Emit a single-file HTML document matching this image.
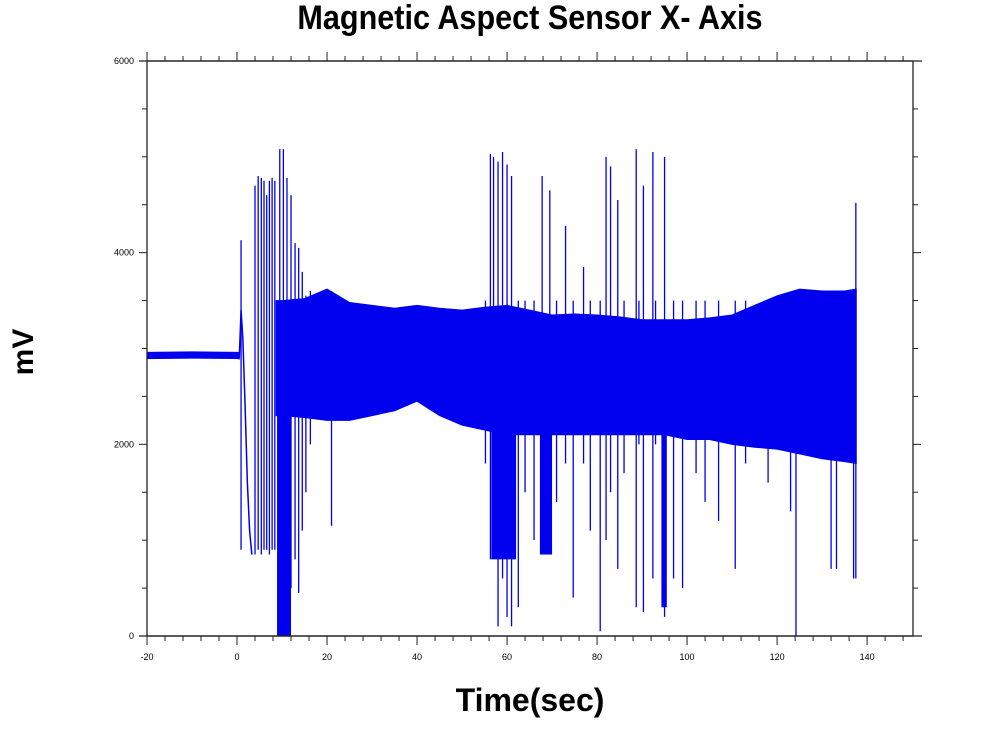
<!DOCTYPE html>
<html><head><meta charset="utf-8"><style>
html,body{margin:0;padding:0;background:#fff;}
svg{display:block;font-family:"Liberation Sans",Arial,sans-serif;}
</style></head><body>
<svg id="chart" width="1007" height="738" viewBox="0 0 1007 738">
<text x="0" y="0" text-anchor="middle" font-size="34" font-weight="bold" transform="translate(530,29) scale(0.9,1)">Magnetic Aspect Sensor X- Axis</text>
<text x="0" y="0" text-anchor="middle" font-size="30" font-weight="bold" transform="translate(33,352) rotate(-90)">mV</text>
<text x="530" y="711" text-anchor="middle" font-size="32" font-weight="bold">Time(sec)</text>
<g id="plot"></g>
<g id="axes"></g>
</svg>
<script>
// data
const xTicks = [-20,0,20,40,60,80,100,120,140];
const yTicks = [0,2000,4000,6000];
const flatT = [-20,-10,0,0.5];
const flatLo = [2895,2900,2895,2890];
const flatHi = [2960,2965,2960,2960];
const transT = [0.5,0.9,1.3,1.8,2.3,2.8,3.3];
const transV = [2900,3400,3100,2400,1600,1100,850];
const bandT = [8.7,10,15,20,25,30,35,40,45,50,55,60,65,70,75,80,85,90,95,100,105,110,115,120,125,130,135,137.6];
const bandHi = [3500,3500,3520,3620,3480,3450,3420,3450,3420,3400,3430,3450,3400,3350,3360,3350,3330,3300,3300,3300,3320,3350,3450,3550,3620,3600,3600,3620];
const bandLo = [2300,2300,2280,2250,2250,2300,2350,2450,2300,2200,2150,2100,2100,2100,2100,2100,2100,2100,2100,2050,2050,2000,1970,1950,1900,1850,1820,1800];
const blockT0 = [8.9,56.5,67.3,94.3];
const blockT1 = [12.0,62.0,70.0,95.5];
const blockLo = [0,800,850,300];
const spikeT = [0.9,4.0,4.7,5.4,6.0,6.6,7.2,7.8,8.4,9.5,10.3,11.1,12.0,12.9,13.7,14.5,15.3,16.3,21,
 55.2,56.3,57,58,59,60,61,62.5,64,66,67.8,69.5,71,73,74.7,77,78.5,80.7,82,83,84.6,86,88.7,89.3,90.3,92.4,93,95,97,99,102,104,107,110.7,113,118,123,124.2,132,133.2,137,137.5];
const spikeLo = [900,850,900,850,900,900,850,900,900,0,0,0,500,800,450,1100,1500,2000,1150,
 1800,800,1000,100,600,200,100,300,1500,1000,850,1000,1400,1800,400,1800,1100,50,1000,1500,700,1700,300,2000,250,600,2000,200,600,500,1700,1400,1200,700,1800,1600,1300,0,700,700,600,600];
const spikeHi = [4130,4700,4800,4780,4750,4600,4750,4780,4750,5080,5080,4780,4600,4100,4050,3800,3550,3600,3600,
 3500,5030,5000,4950,5050,4920,4800,3500,3500,3500,4800,4650,3500,4280,3500,3850,3500,3500,5000,4900,4550,3500,5080,3500,4700,5050,3500,5000,3500,3500,3500,3500,3500,3500,3500,3500,3500,3500,3500,3500,3600,4520];

const L=147,R=913,T=61,B=636,xMin=-20,xMax=150.2,yMin=0,yMax=6000;
const sx=v=>L+(v-xMin)/(xMax-xMin)*(R-L);
const sy=v=>B-(v-yMin)/(yMax-yMin)*(B-T);
const NS="http://www.w3.org/2000/svg";
const plot=document.getElementById('plot'), axes=document.getElementById('axes');
function mk(tag,attrs,parent){const e=document.createElementNS(NS,tag);for(const k in attrs)e.setAttribute(k,attrs[k]);parent.appendChild(e);return e;}
const BLUE="#0000ee";

let pts=flatT.map((t,i)=>sx(t)+','+sy(flatHi[i])).concat(flatT.slice().reverse().map((t,i)=>sx(t)+','+sy(flatLo[flatT.length-1-i])));
let e=mk('polygon',{points:pts.join(' '),fill:BLUE,stroke:BLUE,'stroke-width':1},plot);


e=mk('polyline',{points:transT.map((t,i)=>sx(t)+','+sy(transV[i])).join(' '),fill:'none',stroke:BLUE,'stroke-width':1.5},plot);


pts=bandT.map((t,i)=>sx(t)+','+sy(bandHi[i])).concat(bandT.map((t,i)=>i).reverse().map(i=>sx(bandT[i])+','+sy(bandLo[i])));
e=mk('polygon',{points:pts.join(' '),fill:BLUE,stroke:BLUE,'stroke-width':1},plot);


blockT0.forEach((t,i)=>{
 const r=mk('rect',{x:sx(t),y:sy(2800),width:sx(blockT1[i])-sx(t),height:sy(blockLo[i])-sy(2800),fill:BLUE},plot);
 
 
});
spikeT.forEach((t,i)=>{
 const l=mk('line',{x1:sx(t),x2:sx(t),y1:sy(spikeLo[i]),y2:sy(spikeHi[i]),stroke:BLUE,'stroke-width':1.3},plot);
 
 
});

e=mk('rect',{x:L,y:T,width:R-L,height:B-T,fill:'none',stroke:'#222','stroke-width':1.3},axes);


mk('line',{x1:L-8,x2:R+9,y1:T,y2:T,stroke:'#222','stroke-width':1.3},axes);
mk('line',{x1:L-8,x2:R+9,y1:B,y2:B,stroke:'#222','stroke-width':1.3},axes);
for(let v=-20;v<=150;v+=4){
 const major=(v%20===0);
 mk('line',{x1:sx(v),x2:sx(v),y1:B,y2:B+(major?9:5),stroke:'#222','stroke-width':1},axes);
 mk('line',{x1:sx(v),x2:sx(v),y1:T,y2:T-(major?9:5),stroke:'#222','stroke-width':1},axes);
}
xTicks.forEach(v=>{
 const t=mk('text',{x:sx(v),y:B+24,'text-anchor':'middle','font-size':9},axes);
 t.textContent=v;
 
 
});
for(let v=0;v<=6000;v+=500){
 const major=(v%2000===0);
 mk('line',{x1:L,x2:L-(major?8:5),y1:sy(v),y2:sy(v),stroke:'#222','stroke-width':1},axes);
 mk('line',{x1:R,x2:R+(major?8:5),y1:sy(v),y2:sy(v),stroke:'#222','stroke-width':1},axes);
}
yTicks.forEach(v=>{
 const t=mk('text',{x:L-13,y:sy(v)+3,'text-anchor':'end','font-size':9},axes);
 t.textContent=v;
 
 
});
</script>
</body></html>
